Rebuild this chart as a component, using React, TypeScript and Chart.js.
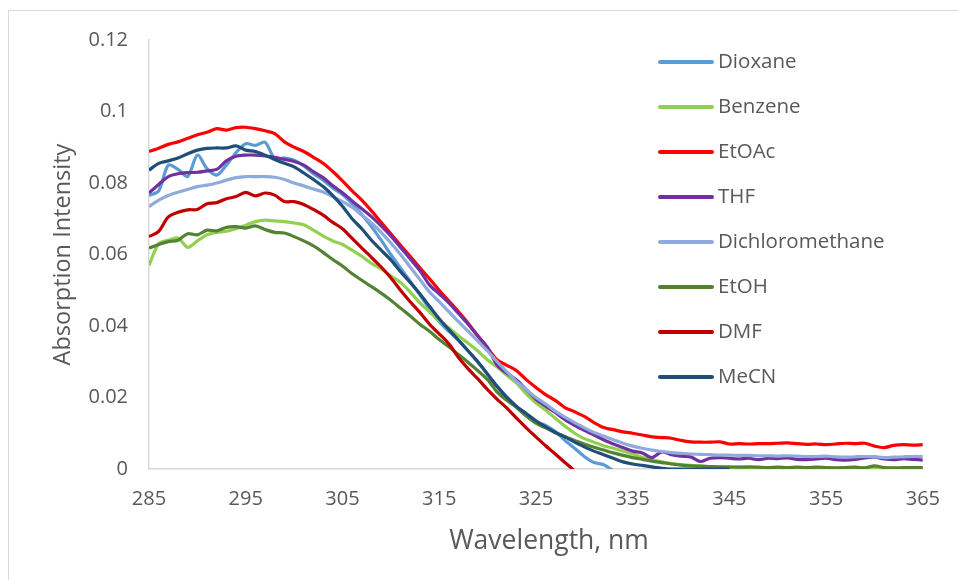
import React, { useEffect, useRef } from "react";
import { Chart, registerables } from "chart.js";
Chart.register(...registerables);

const wavelengths = [
  285, 286, 287, 288, 289, 290, 291, 292, 293, 294, 295, 296, 297, 298, 299, 300,
  301, 302, 303, 304, 305, 306, 307, 308, 309, 310, 311, 312, 313, 314, 315, 316,
  317, 318, 319, 320, 321, 322, 323, 324, 325, 326, 327, 328, 329, 330, 331, 332,
  333, 334, 335, 336, 337, 338, 339, 340, 341, 342, 343, 344, 345, 346, 347, 348,
  349, 350, 351, 352, 353, 354, 355, 356, 357, 358, 359, 360, 361, 362, 363, 364, 365,
];

const dioxane = [
  0.0765, 0.0778, 0.085, 0.0838, 0.0818, 0.0878, 0.084, 0.0822, 0.085, 0.0885, 0.091,
  0.0905, 0.0914, 0.0868, 0.087, 0.0864, 0.0848, 0.0826, 0.0808, 0.0786, 0.0768,
  0.0742, 0.0712, 0.0678, 0.064, 0.06, 0.0562, 0.0525, 0.0487, 0.0448, 0.0412,
  0.0385, 0.036, 0.033, 0.0298, 0.0265, 0.0232, 0.0202, 0.0175, 0.015, 0.0132,
  0.0122, 0.0105, 0.008, 0.0058, 0.0035, 0.0018, 0.0012, -0.0005,
];

const benzene = [
  0.057, 0.063, 0.064, 0.0646, 0.062, 0.0638, 0.0655, 0.0662, 0.0665, 0.0672, 0.0682,
  0.0692, 0.0696, 0.0694, 0.0692, 0.0688, 0.0683, 0.0668, 0.0652, 0.0638, 0.0628,
  0.0612, 0.0595, 0.0575, 0.056, 0.054, 0.0522, 0.0495, 0.0465, 0.044, 0.0415,
  0.0395, 0.0372, 0.0352, 0.033, 0.0305, 0.0285, 0.0262, 0.024, 0.021, 0.0185,
  0.0165, 0.0142, 0.012, 0.01, 0.0085, 0.0075, 0.0065, 0.0058, 0.005, 0.0042,
  0.0033, 0.0026, 0.002, 0.0015, 0.0012, 0.001, 0.0008, 0.0006, 0.0005,
  0.0004, 0.0005, 0.0004, 0.0003, 0.0004, 0.0003, 0.0003, 0.0002, 0.0003, 0.0002,
  0.0003, 0.0002, 0.0002, 0.0003, 0.0002, 0.0002, 0.0003, 0.0002, 0.0002, 0.0002, 0.0002,
];

const etoac = [
  0.0888, 0.0897, 0.0908, 0.0915, 0.0925, 0.0935, 0.0942, 0.0952, 0.0948, 0.0955,
  0.0956, 0.0952, 0.0946, 0.0938, 0.0915, 0.09, 0.0888, 0.0872, 0.0855, 0.0832,
  0.0806, 0.0778, 0.0752, 0.0722, 0.069, 0.0658, 0.0626, 0.0595, 0.0563, 0.0532,
  0.05, 0.047, 0.044, 0.0408, 0.0372, 0.0338, 0.0305, 0.029, 0.0275, 0.025, 0.0228,
  0.0208, 0.0192, 0.0172, 0.016, 0.0147, 0.013, 0.0116, 0.011, 0.0104, 0.01, 0.0095,
  0.009, 0.0088, 0.0086, 0.008, 0.0076, 0.0075, 0.0075, 0.0076, 0.007, 0.0071, 0.007,
  0.0071, 0.0071, 0.0072, 0.0073, 0.0071, 0.0069, 0.007, 0.0068, 0.007, 0.0072,
  0.0071, 0.0072, 0.0064, 0.006, 0.0066, 0.0068, 0.0067, 0.0068,
];

const thf = [
  0.0772, 0.0796, 0.0818, 0.0826, 0.0829, 0.083, 0.0834, 0.0838, 0.0862, 0.0875,
  0.0878, 0.0878, 0.0876, 0.0872, 0.0866, 0.086, 0.085, 0.0832, 0.0815, 0.0792,
  0.0773, 0.075, 0.0728, 0.0706, 0.068, 0.0652, 0.062, 0.0588, 0.0555, 0.0515,
  0.049, 0.0465, 0.0435, 0.0405, 0.0372, 0.034, 0.029, 0.0268, 0.0249, 0.0222,
  0.0195, 0.0176, 0.0158, 0.0138, 0.0122, 0.0108, 0.0095, 0.0082, 0.007, 0.006,
  0.005, 0.0045, 0.0032, 0.0048, 0.004, 0.0036, 0.0034, 0.0021, 0.003, 0.0032, 0.003,
  0.0028, 0.003, 0.0026, 0.003, 0.0029, 0.0031, 0.0027, 0.0026, 0.0028, 0.003, 0.0026,
  0.0025, 0.0027, 0.0031, 0.0033, 0.0028, 0.0026, 0.0029, 0.0027, 0.0025,
];

const dichloromethane = [
  0.0734, 0.0752, 0.0765, 0.0774, 0.0782, 0.079, 0.0794, 0.08, 0.0808, 0.0815,
  0.0818, 0.0818, 0.0818, 0.0816, 0.081, 0.08, 0.0792, 0.0783, 0.0775, 0.0762,
  0.0748, 0.0732, 0.071, 0.0688, 0.0662, 0.0632, 0.06, 0.0565, 0.053, 0.0495,
  0.0468, 0.044, 0.0412, 0.0385, 0.0358, 0.033, 0.03, 0.0272, 0.0245, 0.0222, 0.02,
  0.0182, 0.0162, 0.0145, 0.013, 0.0115, 0.0102, 0.0092, 0.0082, 0.0072, 0.0064,
  0.0058, 0.0053, 0.0049, 0.0046, 0.0044, 0.0042, 0.0041, 0.004, 0.0039, 0.0039,
  0.0038, 0.0038, 0.0037, 0.0037, 0.0036, 0.0037, 0.0036, 0.0035, 0.0035, 0.0036,
  0.0034, 0.0033, 0.0034, 0.0035, 0.0034, 0.0032, 0.0033, 0.0034, 0.0035, 0.0035,
];

const etoh = [
  0.0618, 0.0628, 0.0636, 0.064, 0.0658, 0.0655, 0.0668, 0.0666, 0.0676, 0.0678,
  0.0674, 0.068, 0.067, 0.0662, 0.066, 0.065, 0.0638, 0.0624, 0.0606, 0.0586,
  0.0568, 0.0546, 0.0528, 0.051, 0.0492, 0.0472, 0.045, 0.0428, 0.0405, 0.0385,
  0.0362, 0.0342, 0.032, 0.0298, 0.0275, 0.025, 0.0215, 0.0192, 0.0172, 0.0148,
  0.0128, 0.0115, 0.0102, 0.009, 0.008, 0.007, 0.0061, 0.0053, 0.0045, 0.0038,
  0.0032, 0.0027, 0.0022, 0.0018, 0.0014, 0.0011, 0.0009, 0.0008, 0.0007, 0.0006,
  0.0006, 0.0005, 0.0006, 0.0005, 0.0004, 0.0005, 0.0004, 0.0005, 0.0004, 0.0005,
  0.0004, 0.0003, 0.0004, 0.0005, 0.0003, 0.0009, 0.0004, 0.0003, 0.0004, 0.0004, 0.0004,
];

const dmf = [
  0.065, 0.0665, 0.0705, 0.0718, 0.0725, 0.0726, 0.0742, 0.0745, 0.0756, 0.0762,
  0.0774, 0.0764, 0.0772, 0.0766, 0.0748, 0.0748, 0.074, 0.0726, 0.071, 0.069,
  0.0672, 0.0645, 0.0618, 0.0592, 0.0565, 0.0535, 0.05, 0.0468, 0.0438, 0.0405,
  0.0378, 0.035, 0.0312, 0.028, 0.0252, 0.0222, 0.0195, 0.017, 0.0142, 0.0115,
  0.009, 0.0065, 0.0042, 0.0018, -0.0005,
];

const mecn = [
  0.0836, 0.0855, 0.0862, 0.087, 0.0882, 0.0892, 0.0897, 0.0898, 0.0898, 0.0904,
  0.0892, 0.0888, 0.0878, 0.0866, 0.0855, 0.0845, 0.0828, 0.081, 0.079, 0.0765,
  0.0735, 0.07, 0.0672, 0.064, 0.0612, 0.0585, 0.0552, 0.0522, 0.049, 0.0455,
  0.042, 0.039, 0.036, 0.033, 0.03, 0.0265, 0.023, 0.02, 0.0175, 0.0155, 0.0135,
  0.0118, 0.0102, 0.009, 0.0075, 0.0062, 0.005, 0.004, 0.003, 0.002, 0.0014, 0.001,
  0.0006, 0.0002, 0, 0, 0, 0, 0, 0, 0,
];

const seriesNames = [
  "Dioxane",
  "Benzene",
  "EtOAc",
  "THF",
  "Dichloromethane",
  "EtOH",
  "DMF",
  "MeCN",
];
const seriesValues = [dioxane, benzene, etoac, thf, dichloromethane, etoh, dmf, mecn];
const seriesColors = [
  "#5b9bd5",
  "#92d050",
  "#ff0000",
  "#7030a0",
  "#8faadc",
  "#548235",
  "#c00000",
  "#1f4e79",
];

const yTicks = [0, 0.02, 0.04, 0.06, 0.08, 0.1, 0.12];
const xTicks = [285, 295, 305, 315, 325, 335, 345, 355, 365];
const xTitle = "Wavelength, nm";
const yTitle = "Absorption Intensity";

const FONT = '"Open Sans", "DejaVu Sans", sans-serif';
const TEXT = "#595959";

export default function App() {
  const ref = useRef<HTMLCanvasElement>(null);

  useEffect(() => {
    if (!ref.current) return;
    const overlayPlugin = {
      id: "overlayLegend",
      afterDraw(chart: any) {
        const ctx = chart.ctx;
        ctx.save();
        ctx.font = `20.5px ${FONT}`;
        ctx.textBaseline = "middle";
        ctx.textAlign = "left";
        seriesNames.forEach((name, i) => {
          const y = 62 + i * 45;
          ctx.strokeStyle = seriesColors[i];
          ctx.lineWidth = 4;
          ctx.lineCap = "round";
          ctx.beginPath();
          ctx.moveTo(660, y);
          ctx.lineTo(712, y);
          ctx.stroke();
          ctx.fillStyle = TEXT;
          ctx.fillText(name, 718, y);
        });
        // x axis title
        ctx.font = `26.5px ${FONT}`;
        ctx.textAlign = "center";
        ctx.fillStyle = TEXT;
        ctx.fillText(xTitle, 549, 541);
        ctx.restore();
      },
    };

    const chart = new Chart(ref.current, {
      type: "line",
      data: {
        datasets: seriesNames.map((name, i) => ({
          label: name,
          data: seriesValues[i].map((v, j) => ({ x: wavelengths[j], y: v })),
          borderColor: seriesColors[i],
          backgroundColor: seriesColors[i],
          borderWidth: 3.2,
          pointRadius: 0,
          tension: 0.3,
          fill: false,
          order: seriesNames.length - i,
        })),
      },
      options: {
        animation: false,
        responsive: false,
        maintainAspectRatio: false,
        layout: { padding: { left: 0, right: 30, top: 40, bottom: 23 } },
        plugins: { legend: { display: false }, tooltip: { enabled: false } },
        scales: {
          x: {
            type: "linear",
            min: 285,
            max: 365,
            afterBuildTicks: (s: any) => {
              s.ticks = xTicks.map((v) => ({ value: v }));
            },
            ticks: {
              color: TEXT,
              font: { family: FONT, size: 20 },
              padding: 18,
              maxRotation: 0,
            },
            grid: { display: false, drawTicks: false },
            border: { display: true, color: "#d9d9d9", width: 1.5 },
            title: { display: false },
            afterFit: (s: any) => {
              s.height = 88;
            },
          },
          y: {
            type: "linear",
            min: 0,
            max: 0.12,
            afterBuildTicks: (s: any) => {
              s.ticks = yTicks.map((v) => ({ value: v }));
            },
            ticks: {
              color: TEXT,
              font: { family: FONT, size: 20 },
              padding: 21,
              callback: (v: any) => String(Number(Number(v).toFixed(2))),
            },
            grid: { display: false, drawTicks: false },
            border: { display: true, color: "#d9d9d9", width: 1.5 },
            title: {
              display: true,
              text: yTitle,
              color: TEXT,
              font: { family: FONT, size: 23.5 },
              padding: { top: 49, bottom: 0 },
            },
            afterFit: (s: any) => {
              s.width = 149;
            },
          },
        },
      },
      plugins: [overlayPlugin],
    });
    return () => chart.destroy();
  }, []);

  return (
    <div>
      <div
        style={{
          position: "fixed",
          left: 8,
          top: 10,
          width: 960,
          height: 600,
          border: "1px solid #d9d9d9",
          background: "#ffffff",
        }}
      />
      <div style={{ position: "fixed", left: 0, top: 0, width: 958, height: 580 }}>
        <canvas ref={ref} width={958} height={580} style={{ width: 958, height: 580 }} />
      </div>
    </div>
  );
}
